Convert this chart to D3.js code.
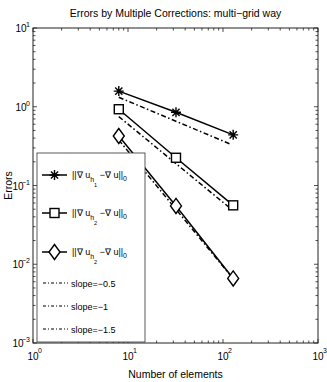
<!DOCTYPE html>
<html>
<head>
<meta charset="utf-8">
<script src="https://cdn.jsdelivr.net/npm/d3@7"></script>
<style>
  body { margin: 0; background: #fff; }
  svg text { font-family: "Liberation Sans Narrow", "Liberation Sans", Arial, sans-serif; fill: #000; }
</style>
</head>
<body>
<div id="chart"></div>
<script>
// values
const nElements = [8, 32, 128];
const errH1 = [1.58, 0.85, 0.44];
const errH2 = [0.93, 0.225, 0.056];
const errH3 = [0.425, 0.055, 0.0066];

// reference slope lines: endpoints (N, error)
const refN = [8, 120];
const refSlope05 = [1.32, 0.335];
const refSlope1 = [0.75, 0.051];
const refSlope15 = [0.378, 0.0072];

const xTickExp = [0, 1, 2, 3];
const yTickExp = [1, 0, -1, -2, -3];
const slopeLabels = ["slope=\u22120.5", "slope=\u22121", "slope=\u22121.5"];
const subIdx = ["1", "2", "2"];

const W = 327, H = 382;
const plot = { left: 33, right: 318, top: 28, bottom: 343 };

const svg = d3.select("#chart").append("svg").attr("width", W).attr("height", H);

const x = d3.scaleLog().domain([1, 1000]).range([plot.left, plot.right]);
const y = d3.scaleLog().domain([1e-3, 10]).range([plot.bottom, plot.top]);

// box
svg.append("rect")
  .attr("x", plot.left).attr("y", plot.top)
  .attr("width", plot.right - plot.left).attr("height", plot.bottom - plot.top)
  .attr("fill", "none").attr("stroke", "#222").attr("stroke-width", 1);

// ticks (inside, all four sides)
function logTicks(domain) {
  const out = [];
  for (let e = Math.log10(domain[0]); e < Math.log10(domain[1]); e++) {
    for (let m = 1; m < 10; m++) out.push({ v: m * Math.pow(10, e), major: m === 1 });
  }
  out.push({ v: domain[1], major: true });
  return out;
}
const tg = svg.append("g").attr("stroke", "#222").attr("stroke-width", 0.8);
logTicks(x.domain()).forEach((t) => {
  const len = t.major ? 4 : 2.5;
  const px = x(t.v);
  tg.append("line").attr("x1", px).attr("x2", px).attr("y1", plot.bottom).attr("y2", plot.bottom - len);
  tg.append("line").attr("x1", px).attr("x2", px).attr("y1", plot.top).attr("y2", plot.top + len);
});
logTicks(y.domain()).forEach((t) => {
  const len = t.major ? 4 : 2.5;
  const py = y(t.v);
  tg.append("line").attr("y1", py).attr("y2", py).attr("x1", plot.left).attr("x2", plot.left + len);
  tg.append("line").attr("y1", py).attr("y2", py).attr("x1", plot.right).attr("x2", plot.right - len);
});

// tick labels
xTickExp.forEach((e) => {
  const px = x(Math.pow(10, e));
  svg.append("text").attr("x", px).attr("y", 360).attr("text-anchor", "middle")
    .style("font-size", "10px").text("10");
  svg.append("text").attr("x", px + 5).attr("y", 353)
    .style("font-size", "7px").text(String(e));
});
yTickExp.forEach((e) => {
  const py = y(Math.pow(10, e));
  const lab = e < 0 ? "\u2212" + Math.abs(e) : String(e);
  svg.append("text").attr("x", 30).attr("y", py - 1).attr("text-anchor", "end")
    .style("font-size", "7px").text(lab);
  const w = e < 0 ? 6.5 : 3.5;
  svg.append("text").attr("x", 30 - w).attr("y", py + 4).attr("text-anchor", "end")
    .style("font-size", "10px").text("10");
});

// title & axis labels
svg.append("text").attr("x", (plot.left + plot.right) / 2).attr("y", 17)
  .attr("text-anchor", "middle").style("font-size", "10.5px")
  .text("Errors by Multiple Corrections: multi\u2212grid way");
svg.append("text").attr("x", (plot.left + plot.right) / 2).attr("y", 378)
  .attr("text-anchor", "middle").style("font-size", "10.5px")
  .text("Number of elements");
svg.append("text")
  .attr("transform", "rotate(-90)")
  .attr("x", -(plot.top + plot.bottom) / 2).attr("y", 12)
  .attr("text-anchor", "middle").style("font-size", "10.5px")
  .text("Errors");

// markers
function drawMarker(g, kind, cx, cy) {
  const m = g.append("g").attr("transform", `translate(${cx},${cy})`)
    .attr("stroke", "#000").attr("stroke-width", 1.4).attr("fill", "none");
  if (kind === "star") {
    const r = 5;
    m.append("path").attr("d",
      `M${-r},0H${r}M0,${-r}V${r}M${-r * 0.72},${-r * 0.72}L${r * 0.72},${r * 0.72}M${-r * 0.72},${r * 0.72}L${r * 0.72},${-r * 0.72}`);
  } else if (kind === "square") {
    m.append("rect").attr("x", -4.5).attr("y", -4.5).attr("width", 9).attr("height", 9).attr("fill", "#fff");
  } else {
    m.append("path").attr("d", "M0,-7.5L5.5,0L0,7.5L-5.5,0Z").attr("fill", "#fff");
  }
}

const line = d3.line().x((d) => x(d[0])).y((d) => y(d[1]));
const dashDot = "5,2.5,1.5,2.5";

const series = [
  { vals: errH1, marker: "star" },
  { vals: errH2, marker: "square" },
  { vals: errH3, marker: "diamond" },
];
const refs = [refSlope05, refSlope1, refSlope15];

const dataG = svg.append("g");
refs.forEach((r) => {
  dataG.append("path").attr("d", line(refN.map((n, i) => [n, r[i]])))
    .attr("fill", "none").attr("stroke", "#000").attr("stroke-width", 1.5)
    .attr("stroke-dasharray", dashDot);
});
series.forEach((s) => {
  dataG.append("path").attr("d", line(nElements.map((n, i) => [n, s.vals[i]])))
    .attr("fill", "none").attr("stroke", "#000").attr("stroke-width", 1.5);
  nElements.forEach((n, i) => drawMarker(dataG, s.marker, x(n), y(s.vals[i])));
});

// legend
const lg = svg.append("g");
lg.append("rect").attr("x", 37).attr("y", 153).attr("width", 108).attr("height", 189)
  .attr("fill", "#fff").attr("stroke", "#333").attr("stroke-width", 0.8);
const rowY = [175, 213, 252, 283, 306, 329];
series.forEach((s, i) => {
  const ry = rowY[i];
  lg.append("line").attr("x1", 42).attr("x2", 67).attr("y1", ry).attr("y2", ry)
    .attr("stroke", "#000").attr("stroke-width", 1.5);
  drawMarker(lg, s.marker, 54.5, ry);
  const t = lg.append("text").attr("x", 72).attr("y", ry + 3).style("font-size", "9px");
  t.append("tspan").text("||\u2207 u");
  t.append("tspan").attr("dy", 4).style("font-size", "7px").text("h");
  t.append("tspan").attr("dy", 5).style("font-size", "5.5px").text(subIdx[i]);
  t.append("tspan").attr("dy", -9).text(" \u2212\u2207 u||");
  t.append("tspan").attr("dy", 3).style("font-size", "7px").text("0");
});
slopeLabels.forEach((lab, i) => {
  const ry = rowY[3 + i];
  lg.append("line").attr("x1", 43).attr("x2", 68).attr("y1", ry).attr("y2", ry)
    .attr("stroke", "#000").attr("stroke-width", 1.2).attr("stroke-dasharray", "3,2,1,2");
  lg.append("text").attr("x", 71).attr("y", ry + 3.5).style("font-size", "9px").text(lab);
});
</script>
</body>
</html>
